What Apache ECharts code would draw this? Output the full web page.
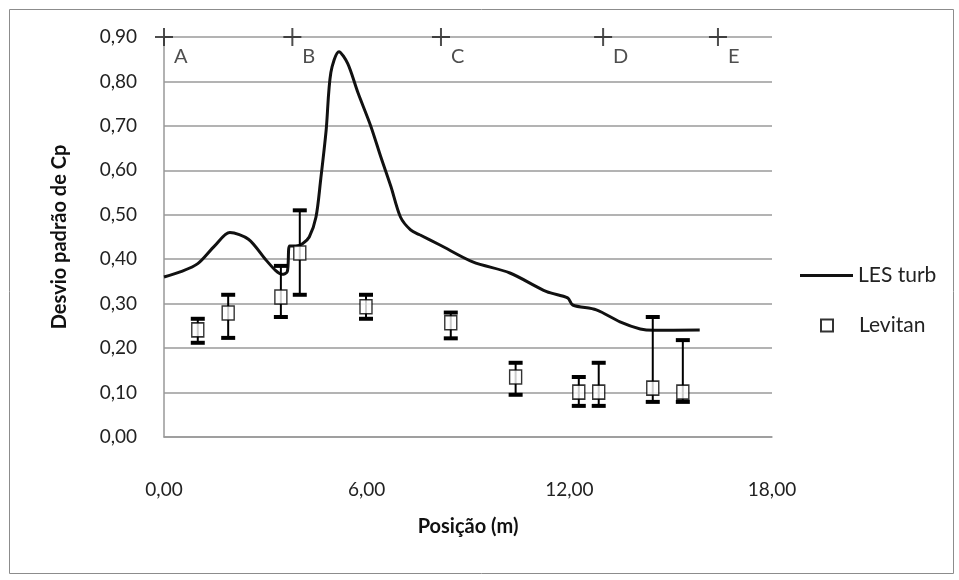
<!DOCTYPE html>
<html>
<head>
<meta charset="utf-8">
<script src="https://cdn.jsdelivr.net/npm/echarts@6/dist/echarts.min.js"></script>
<style>
  html, body { margin: 0; padding: 0; background: #fff; }
  #main { width: 959px; height: 580px; }
</style>
</head>
<body>
<div id="main"></div>
<script>
// LES turb curve (posição m, desvio padrão)
const lesX = [0, 0.5, 1.0, 1.5, 1.95, 2.5, 3.0, 3.3, 3.5, 3.65, 3.72, 3.9, 4.1, 4.3, 4.5, 4.64, 4.8, 4.94, 5.18, 5.44, 5.74, 6.12, 6.42, 6.72, 7.0, 7.3, 7.57, 8.17, 9.14, 10.24, 11.33, 11.95, 12.1, 12.8, 13.5, 14.1, 14.5, 15.86];
const lesY = [0.36, 0.372, 0.39, 0.43, 0.46, 0.445, 0.40, 0.375, 0.366, 0.372, 0.43, 0.43, 0.435, 0.45, 0.495, 0.58, 0.69, 0.82, 0.867, 0.84, 0.775, 0.70, 0.63, 0.563, 0.495, 0.466, 0.455, 0.432, 0.394, 0.369, 0.327, 0.313, 0.297, 0.286, 0.259, 0.243, 0.24, 0.241];

// Levitan points with error bars
const levX = [1.0, 1.9, 3.46, 4.02, 5.98, 8.49, 10.41, 12.28, 12.87, 14.47, 15.36];
const levY = [0.241, 0.279, 0.315, 0.414, 0.293, 0.257, 0.135, 0.101, 0.101, 0.11, 0.101];
const levLow = [0.212, 0.223, 0.27, 0.32, 0.266, 0.222, 0.095, 0.07, 0.07, 0.079, 0.079];
const levHigh = [0.266, 0.32, 0.385, 0.51, 0.32, 0.28, 0.167, 0.135, 0.167, 0.27, 0.218];

// section markers along the top
const secX = [0, 3.8, 8.2, 13.0, 16.4];
const secLabel = ['A', 'B', 'C', 'D', 'E'];

const fmt = v => v.toFixed(2).replace('.', ',');
const font = 'Lato, "Open Sans", sans-serif';

const chart = echarts.init(document.getElementById('main'));
chart.setOption({
  backgroundColor: '#fff',
  animation: false,
  textStyle: { fontFamily: font },
  graphic: [{
    type: 'rect',
    shape: { x: 9.5, y: 9.5, width: 944, height: 564 },
    style: { fill: 'none', stroke: '#8c8c8c', lineWidth: 1 },
    silent: true
  }],
  grid: { left: 164, right: 187, top: 37, bottom: 143 },
  legend: [
    {
      data: ['LES turb'],
      left: 795, top: 260,
      icon: 'rect', itemWidth: 53, itemHeight: 3,
      textStyle: { fontFamily: font, fontSize: 21, color: '#222' }
    },
    {
      data: ['Levitan'],
      left: 815, top: 310,
      itemWidth: 12, itemHeight: 12,
      textStyle: { fontFamily: font, fontSize: 21, color: '#222', padding: [0, 0, 0, 21] }
    }
  ],
  xAxis: {
    type: 'value', min: 0, max: 18, interval: 6,
    name: 'Posição (m)', nameLocation: 'middle', nameGap: 80,
    nameTextStyle: { fontFamily: font, fontSize: 20, fontWeight: 'bold', color: '#111' },
    axisLine: { show: true, lineStyle: { color: '#999', width: 1.5 } },
    axisTick: { show: false },
    axisLabel: { margin: 43, formatter: fmt, fontSize: 19, color: '#222' },
    splitLine: { show: false }
  },
  yAxis: {
    type: 'value', min: 0, max: 0.9, interval: 0.1,
    name: 'Desvio padrão de Cp', nameLocation: 'middle', nameGap: 94, nameRotate: 90,
    nameTextStyle: { fontFamily: font, fontSize: 20, fontWeight: 'bold', color: '#111' },
    axisLine: { show: true, lineStyle: { color: '#999', width: 1.5 } },
    axisTick: { show: false },
    axisLabel: { margin: 27, formatter: fmt, fontSize: 19, color: '#222' },
    splitLine: { show: true, lineStyle: { color: '#9a9a9a', width: 1.5 } }
  },
  series: [
    {
      name: 'LES turb',
      type: 'line',
      data: lesX.map((x, i) => [x, lesY[i]]),
      smooth: 0.3,
      showSymbol: false,
      lineStyle: { color: '#111', width: 3 },
      itemStyle: { color: '#111' },
      z: 3
    },
    {
      name: 'errbars',
      type: 'custom',
      data: levX.map((x, i) => [x, levLow[i], levHigh[i]]),
      renderItem: (params, api) => {
        const lo = api.coord([api.value(0), api.value(1)]);
        const hi = api.coord([api.value(0), api.value(2)]);
        const w = 14, t = 4;
        return {
          type: 'group',
          children: [
            { type: 'line', shape: { x1: lo[0], y1: lo[1], x2: hi[0], y2: hi[1] }, style: { stroke: '#000', lineWidth: 2 } },
            { type: 'rect', shape: { x: hi[0] - w / 2, y: hi[1] - t / 2, width: w, height: t }, style: { fill: '#000' } },
            { type: 'rect', shape: { x: lo[0] - w / 2, y: lo[1] - t / 2, width: w, height: t }, style: { fill: '#000' } }
          ]
        };
      },
      z: 4
    },
    {
      name: 'Levitan',
      type: 'scatter',
      data: levX.map((x, i) => [x, levY[i]]),
      symbol: 'rect',
      symbolSize: [12, 14],
      itemStyle: { color: '#fff', borderColor: '#000', borderWidth: 1.5 },
      z: 5
    },
    {
      name: 'sections',
      type: 'scatter',
      clip: false,
      data: secX.map((x, i) => ({ value: [x, 0.9], name: secLabel[i] })),
      symbol: 'path://M0,8H18V10H0Z M8,0H10V18H8Z',
      symbolSize: 18,
      itemStyle: { color: '#222' },
      label: {
        show: true, formatter: p => p.name,
        position: [19, 19], fontSize: 20, color: '#222', fontFamily: font
      },
      z: 6
    }
  ]
});
</script>
</body>
</html>
